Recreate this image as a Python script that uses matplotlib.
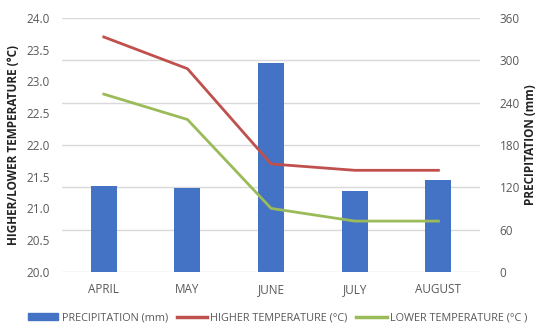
import numpy as np
import matplotlib.pyplot as plt
from matplotlib.patches import Patch
from matplotlib.lines import Line2D

plt.rcParams['font.family'] = ['Open Sans', 'DejaVu Sans']

months = ['APRIL', 'MAY', 'JUNE', 'JULY', 'AUGUST']
precipitation = [122, 119, 296, 115, 130]
higher_temp = [23.7, 23.2, 21.7, 21.6, 21.6]
lower_temp = [22.8, 22.4, 21.0, 20.8, 20.8]

blue = '#4472C4'
red = '#C0504D'
green = '#9BBB59'
grey = '#595959'

fig = plt.figure(figsize=(5.39, 3.26), dpi=100)
ax = fig.add_axes([0.115, 0.166, 0.776, 0.779])
ax2 = ax.twinx()

x = np.arange(len(months))

# bars on the right axis, lines on the left
ax2.bar(x, precipitation, width=0.31, color=blue, zorder=2)
ax2.set_ylim(0, 360)
ax2.set_yticks(np.arange(0, 361, 60))

ax.set_zorder(ax2.get_zorder() + 1)
ax.patch.set_visible(False)
ax.plot(x, higher_temp, color=red, lw=2, zorder=3)
ax.plot(x, lower_temp, color=green, lw=2, zorder=3)
ax.set_ylim(20, 24)
ax.set_yticks(np.arange(20, 24.01, 0.5))
ax.set_yticklabels([f'{v:.1f}' for v in np.arange(20, 24.01, 0.5)])
ax.set_xlim(-0.5, 4.5)
ax.set_xticks(x)
ax.set_xticklabels(months)

ax2.grid(axis='y', color='#D9D9D9', lw=1, zorder=0)
ax2.set_axisbelow(True)

for a in (ax, ax2):
    for s in a.spines.values():
        s.set_visible(False)
    a.tick_params(length=0, labelsize=8.5, colors=grey)
ax.tick_params(axis='y', pad=9)
ax.tick_params(axis='x', pad=8)
ax2.tick_params(axis='y', pad=14)

ax.set_ylabel('HIGHER/LOWER TEMPERATURE (°C)', fontsize=8.5, fontweight='bold', color='#222222', labelpad=4)
ax2.set_ylabel('PRECIPITATION (mm)', fontsize=8.5, fontweight='bold', color='#222222', labelpad=3)

handles = [
    Patch(color=blue),
    Line2D([], [], color=red, lw=2.5),
    Line2D([], [], color=green, lw=2.5),
]
labels = ['PRECIPITATION (mm)', 'HIGHER TEMPERATURE (°C)', 'LOWER TEMPERATURE (°C )']
leg = fig.legend(handles, labels, loc='center', bbox_to_anchor=(0.515, 0.025), ncol=3,
                 frameon=False, fontsize=7.8, handlelength=2.8, handleheight=0.6,
                 columnspacing=0.8, handletextpad=0.3)
for t in leg.get_texts():
    t.set_color(grey)

fig.savefig('out.png', dpi=100)
